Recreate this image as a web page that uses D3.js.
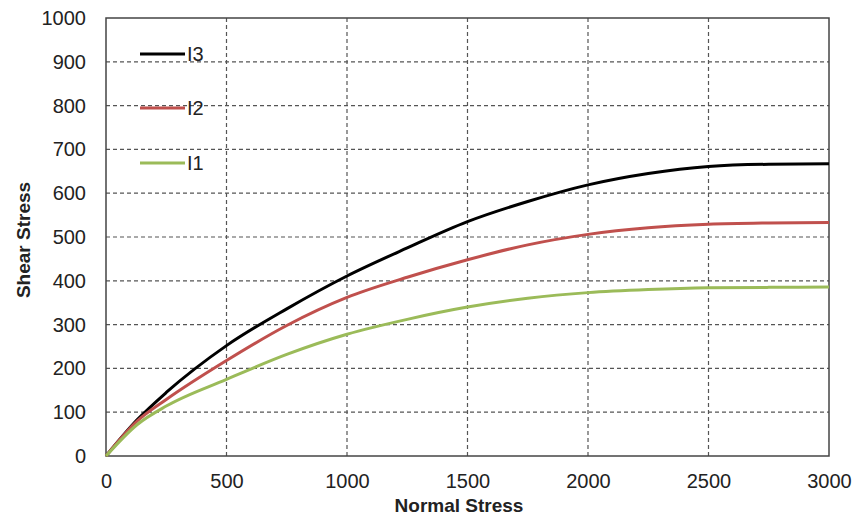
<!DOCTYPE html>
<html>
<head>
<meta charset="utf-8">
<script src="https://cdn.jsdelivr.net/npm/d3@7"></script>
<style>
  body { margin: 0; background: #fff; }
  svg { font-family: "Liberation Sans", Arial, sans-serif; }
</style>
</head>
<body>
<div id="chart"></div>
<script>
// x values (normal stress)
const normalStress = [0, 130, 250, 500, 750, 1000, 1250, 1500, 1750, 2000, 2250, 2500, 2750, 3000];
// shear stress per curve
const i3 = [0, 83, 145, 252, 336, 411, 475, 535, 581, 619, 645, 661, 666, 667];
const i2 = [0, 80, 129, 218, 298, 362, 408, 448, 482, 506, 521, 529, 532, 533];
const i1 = [0, 72, 114, 175, 232, 278, 312, 340, 360, 373, 380, 384, 385, 386];

const seriesNames = ["I3", "I2", "I1"];
const seriesColors = ["#000000", "#c0504d", "#9bbb59"];
const seriesValues = [i3, i2, i1];

const xTicks = [0, 500, 1000, 1500, 2000, 2500, 3000];
const yTicks = [0, 100, 200, 300, 400, 500, 600, 700, 800, 900, 1000];

const width = 857, height = 517;
const margin = { left: 106, top: 18, right: 28, bottom: 61 };

const x = d3.scaleLinear().domain([0, 3000]).range([margin.left, width - margin.right]);
const y = d3.scaleLinear().domain([0, 1000]).range([height - margin.bottom, margin.top]);

const svg = d3.select("#chart").append("svg")
    .attr("width", width)
    .attr("height", height);

// gridlines
svg.append("g")
    .selectAll("line")
    .data(yTicks.filter(d => d > 0 && d < 1000))
    .join("line")
    .attr("x1", x(0)).attr("x2", x(3000))
    .attr("y1", d => y(d)).attr("y2", d => y(d))
    .attr("stroke", "#555")
    .attr("stroke-width", 1.2)
    .attr("stroke-dasharray", "4,3");

svg.append("g")
    .selectAll("line")
    .data(xTicks.filter(d => d > 0 && d < 3000))
    .join("line")
    .attr("y1", y(0)).attr("y2", y(1000))
    .attr("x1", d => x(d)).attr("x2", d => x(d))
    .attr("stroke", "#555")
    .attr("stroke-width", 1.2)
    .attr("stroke-dasharray", "4,3");

// plot border
svg.append("rect")
    .attr("x", x(0)).attr("y", y(1000))
    .attr("width", x(3000) - x(0))
    .attr("height", y(0) - y(1000))
    .attr("fill", "none")
    .attr("stroke", "#444")
    .attr("stroke-width", 1.5);

// axes (labels only)
const xAxis = svg.append("g")
    .attr("transform", `translate(0,${y(0)})`)
    .call(d3.axisBottom(x).tickValues(xTicks).tickFormat(d3.format("d")).tickSize(0).tickPadding(18));
xAxis.select(".domain").remove();
xAxis.attr("font-size", 20).attr("font-family", "Liberation Sans, Arial, sans-serif");
xAxis.selectAll("text").attr("fill", "#222");

const yAxis = svg.append("g")
    .attr("transform", `translate(${x(0)},0)`)
    .call(d3.axisLeft(y).tickValues(yTicks).tickFormat(d3.format("d")).tickSize(0).tickPadding(20));
yAxis.select(".domain").remove();
yAxis.attr("font-size", 20).attr("font-family", "Liberation Sans, Arial, sans-serif");
yAxis.selectAll("text").attr("fill", "#222");

// axis titles
svg.append("text")
    .attr("x", 459)
    .attr("y", 512)
    .attr("text-anchor", "middle")
    .attr("font-size", 19)
    .attr("font-weight", "bold")
    .attr("fill", "#222")
    .text("Normal Stress");

svg.append("text")
    .attr("transform", `translate(30,240) rotate(-90)`)
    .attr("text-anchor", "middle")
    .attr("font-size", 19)
    .attr("font-weight", "bold")
    .attr("fill", "#222")
    .text("Shear Stress");

// curves
const line = d3.line()
    .x((d, i) => x(normalStress[i]))
    .y(d => y(d))
    .curve(d3.curveMonotoneX);

svg.append("g")
    .selectAll("path")
    .data(seriesValues)
    .join("path")
    .attr("fill", "none")
    .attr("stroke", (d, i) => seriesColors[i])
    .attr("stroke-width", 3)
    .attr("d", line);

// legend
const legend = svg.append("g");
const legendY = [54, 108, 163];
seriesNames.forEach((name, i) => {
    legend.append("line")
        .attr("x1", 140).attr("x2", 185)
        .attr("y1", legendY[i]).attr("y2", legendY[i])
        .attr("stroke", seriesColors[i])
        .attr("stroke-width", 3);
    legend.append("text")
        .attr("x", 187)
        .attr("y", legendY[i] + 7)
        .attr("font-size", 20)
        .attr("fill", "#222")
        .text(name);
});
</script>
</body>
</html>
